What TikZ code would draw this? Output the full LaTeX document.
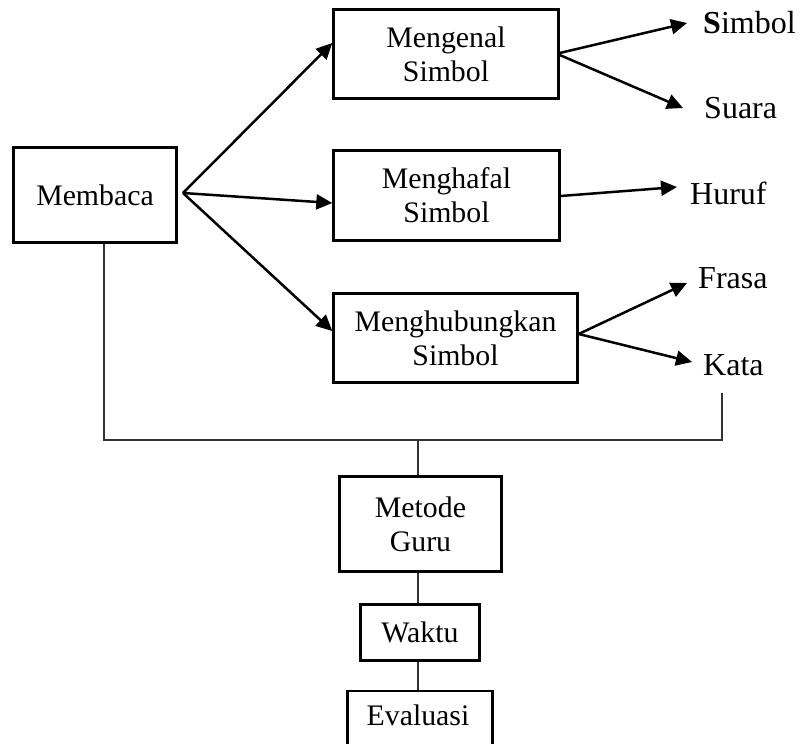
\documentclass[tikz,border=0pt]{standalone}
\usepackage{fontspec}
\setmainfont{Liberation Serif}
\usetikzlibrary{arrows.meta}
\begin{document}
\begin{tikzpicture}[x=1pt,y=-1pt,
  box/.style={draw=black,line width=2.4pt,inner sep=0pt,align=center,
    font=\fontsize{29.8}{33.8}\selectfont},
  lab/.style={inner sep=0pt,anchor=base west,font=\fontsize{32}{36}\selectfont},
  arr/.style={line width=2.5pt,-{Triangle[length=16pt,width=15pt]}},
  thin/.style={line width=1.1pt,draw=black!80}]
\useasboundingbox (0,0) rectangle (803,744);
% boxes
\node[box,minimum width=163pt,minimum height=95pt] (mb) at (95,195) {Membaca};
\node[box,minimum width=225pt,minimum height=89pt] (mk) at (446,54) {Mengenal\\Simbol};
\node[box,minimum width=226pt,minimum height=90pt] (hf) at (446.5,195.5) {Menghafal\\Simbol};
\node[box,minimum width=244pt,minimum height=89pt] (hb) at (455.5,338) {Menghubungkan\\Simbol};
\node[box,minimum width=162pt,minimum height=95pt] (mg) at (420.5,524) {Metode\\Guru};
\node[box,minimum width=119pt,minimum height=56pt] (wk) at (420,632.5) {Waktu};
\node[box,minimum width=145pt,minimum height=70pt,anchor=north] (ev) at (420,689.5) {};
\node[inner sep=0pt,anchor=base,font=\fontsize{29.8}{33.8}\selectfont] (evt) at (418,725) {Evaluasi};
% labels
\node[lab] (lsim) at (703,33) {\textbf{S}imbol};
\node[lab] (lsua) at (704,118) {Suara};
\node[lab] (lhur) at (690,204) {Huruf};
\node[lab] (lfra) at (698,288) {Frasa};
\node[lab] (lkat) at (703,375) {Kata};
% coordinates
\coordinate (mo) at (183,193);
\coordinate (tsim) at (687,23);
\coordinate (tsua) at (683,108);
\coordinate (thur) at (677,187);
\coordinate (tfra) at (687,283);
\coordinate (tkat) at (692,362);
\coordinate (ja) at (104,440);
\coordinate (jb) at (722,440);
\coordinate (jc) at (418,440);
\coordinate (kb) at (722,393);
% arrows from Membaca
\draw[arr] (mo) -- (mk.west |- 0,43);
\draw[arr] (mo) -- (hf.west |- 0,203);
\draw[arr] (mo) -- (hb.west |- 0,331);
% arrows to labels
\draw[arr] (mk.east |- 0,53) -- (tsim);
\draw[arr] (mk.east |- 0,55) -- (tsua);
\draw[arr] (hf.east |- 0,196) -- (thur);
\draw[arr] (hb.east |- 0,334) -- (tfra);
\draw[arr] (hb.east |- 0,334) -- (tkat);
% thin connectors
\draw[thin] (mb.south -| ja) -- (ja) -- (jb) -- (kb);
\draw[thin] (jc) -- (mg.north -| jc);
\draw[thin] (mg.south -| jc) -- (wk.north -| jc);
\draw[thin] (wk.south -| jc) -- (ev.north -| jc);
\end{tikzpicture}
\end{document}
